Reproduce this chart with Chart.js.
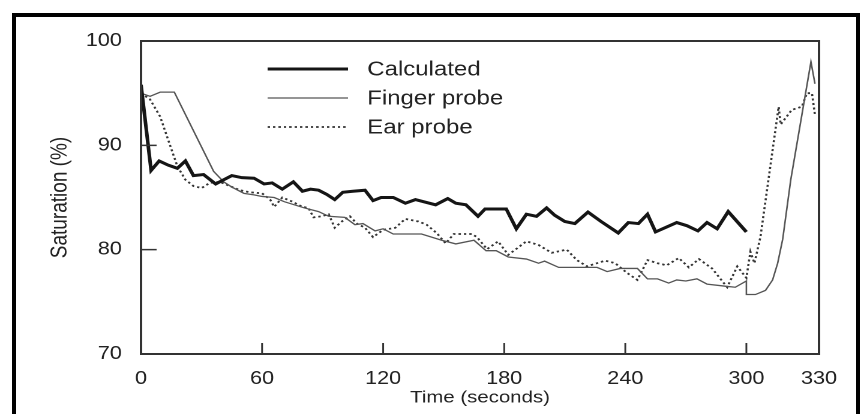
<!DOCTYPE html>
<html>
<head>
<meta charset="utf-8">
<script src="https://cdn.jsdelivr.net/npm/chart.js@4.4.1/dist/chart.umd.min.js"></script>
<style>
  html, body { margin: 0; padding: 0; background: #fff; overflow: hidden; }
  body { width: 868px; height: 414px; position: relative; }
  #frame { position: absolute; left: 12px; top: 13px; width: 840px; height: 420px; border: 4px solid #000; }
  #wrap { position: absolute; left: 0; top: 0; width: 723px; height: 414px; transform: scaleX(1.2); transform-origin: 0 0; }
</style>
</head>
<body>
<div id="frame"></div>
<div id="wrap"><canvas id="myChart" width="723" height="414"></canvas></div>
<script>
// time axis ticks (the figure puts "330" at the right edge)
const tickValues = [0, 60, 120, 180, 240, 300, 336];
const tickLabels = ['0', '60', '120', '180', '240', '300', '330'];

const calcTime = [0, 5, 9, 13.5, 18, 22, 26, 31, 37, 41, 45, 50, 56, 61, 65, 70, 75.5, 80, 84, 88,
  92, 96, 100, 105, 111, 115, 119, 125, 131, 136, 140, 146, 152, 156, 161, 167, 170.5, 181, 186, 191,
  196, 201, 205, 210, 215, 221.5, 228, 236.5, 241.5, 246.5, 251, 255, 265.5, 270.5, 276, 280.5, 285.5, 291, 300];
const calcSat = [95.8, 87.6, 88.5, 88.1, 87.8, 88.5, 87.1, 87.2, 86.3, 86.7, 87.1, 86.9, 86.85, 86.3, 86.4, 85.8, 86.5, 85.6, 85.8, 85.7,
  85.3, 84.8, 85.5, 85.6, 85.7, 84.7, 85.0, 85.0, 84.45, 84.8, 84.6, 84.3, 84.9, 84.45, 84.3, 83.2, 83.9, 83.9, 82.0, 83.4,
  83.2, 84.0, 83.3, 82.7, 82.5, 83.6, 82.7, 81.6, 82.6, 82.5, 83.4, 81.7, 82.6, 82.3, 81.8, 82.6, 82.0, 83.65, 81.7];

const fingerTime = [0, 4.5, 9.5, 16.5, 36, 41, 45, 51, 56, 60, 66, 71, 76, 81, 88, 93, 101, 106, 110, 116,
  120, 125, 139, 149, 156, 165, 171, 176, 182, 191, 197, 200, 207, 226, 231, 237.5, 246, 251, 256, 261.5,
  265.5, 270, 275.5, 280.5, 289.5, 294.5, 300, 300, 304.5, 309.5, 313, 315.5, 318, 322, 332, 334];
const fingerSat = [95.0, 94.7, 95.1, 95.1, 87.5, 86.5, 86.0, 85.4, 85.25, 85.1, 85.0, 84.6, 84.3, 84.0, 83.65, 83.2, 83.1, 82.4, 82.5, 81.8,
  82.0, 81.5, 81.5, 80.9, 80.55, 80.9, 79.9, 79.9, 79.3, 79.1, 78.7, 78.9, 78.3, 78.3, 77.9, 78.2, 78.2, 77.2, 77.2, 76.8,
  77.1, 77.0, 77.2, 76.7, 76.5, 76.4, 77.0, 75.7, 75.7, 76.1, 77.1, 78.7, 81.0, 86.7, 98.0, 95.9];

const earTime = [0, 4.5, 9.5, 13.5, 18, 22, 26, 30, 34, 39, 44, 49, 54, 60, 64, 66, 70, 75, 80, 83,
  85.5, 89.5, 93, 96, 99.5, 103.5, 107, 111, 115, 120, 126, 131, 137.5, 141.5, 146.5, 151, 155, 160, 164, 166.5,
  171.5, 177, 182, 191, 197, 203.5, 211, 216, 221, 230, 235, 241, 246, 251, 256, 260.5, 266.5, 271.5, 276.5, 283,
  290.5, 295.5, 300, 302, 304, 307, 316, 317, 322.5, 327.5, 330, 332.5, 334];
const earSat = [95, 94.4, 92.75, 90.5, 88.0, 86.7, 86.1, 85.9, 86.4, 86.5, 86.1, 85.7, 85.5, 85.4, 84.8, 84.1, 85.0, 84.6, 84.1, 84.0,
  83.1, 83.2, 83.4, 82.1, 82.7, 83.2, 82.5, 82.1, 81.2, 81.9, 82.1, 82.95, 82.7, 82.4, 81.6, 80.6, 81.5, 81.5, 81.5, 81.2,
  80.05, 80.8, 79.5, 80.8, 80.45, 79.7, 80.0, 79.0, 78.4, 78.95, 78.7, 77.75, 77.1, 79.0, 78.7, 78.5, 79.2, 78.3, 79.1, 78.2,
  76.4, 78.4, 77.3, 79.8, 78.7, 81.25, 93.7, 92.0, 93.4, 93.7, 95.0, 95.0, 92.9];

const FONT = "'Liberation Sans', Arial, sans-serif";
const TEXT = '#222';

function pairs(xs, ys) {
  return xs.map((x, i) => ({ x: x, y: ys[i] }));
}

// box round the plot, inward tick marks and the legend inside the plot
const framePlugin = {
  id: 'framePlugin',
  afterDraw(chart) {
    const ctx = chart.ctx;
    const a = chart.chartArea;
    const xs = chart.scales.x, ys = chart.scales.y;
    ctx.save();
    ctx.strokeStyle = '#333';
    ctx.lineWidth = 1.5;
    ctx.beginPath();
    [80, 90].forEach(v => {
      const y = ys.getPixelForValue(v);
      ctx.moveTo(a.left, y);
      ctx.lineTo(a.left + 13, y);
    });
    [60, 120, 180, 240, 300].forEach(v => {
      const x = xs.getPixelForValue(v);
      ctx.moveTo(x, a.bottom);
      ctx.lineTo(x, a.bottom - 11);
    });
    ctx.stroke();

    ctx.lineWidth = 2;
    ctx.strokeStyle = '#333';
    ctx.strokeRect(a.left, a.top, a.right - a.left, a.bottom - a.top);

    // legend
    const rows = [69, 98, 127];
    ctx.font = '20px ' + FONT;
    ctx.textBaseline = 'middle';
    ctx.fillStyle = TEXT;
    chart.data.datasets.forEach((ds, i) => {
      ctx.beginPath();
      ctx.strokeStyle = ds.borderColor;
      ctx.lineWidth = ds.borderWidth;
      ctx.setLineDash(ds.borderDash || []);
      ctx.moveTo(223, rows[i]);
      ctx.lineTo(290, rows[i]);
      ctx.stroke();
      ctx.setLineDash([]);
      ctx.fillText(ds.label, 306, rows[i] + 1);
    });
    ctx.restore();
  }
};

new Chart(document.getElementById('myChart'), {
  type: 'line',
  data: {
    datasets: [{
      label: 'Calculated',
      data: pairs(calcTime, calcSat),
      borderColor: '#151515',
      borderWidth: 3,
      pointRadius: 0,
      tension: 0
    }, {
      label: 'Finger probe',
      data: pairs(fingerTime, fingerSat),
      borderColor: '#555',
      borderWidth: 1.3,
      pointRadius: 0,
      tension: 0
    }, {
      label: 'Ear probe',
      data: pairs(earTime, earSat),
      borderColor: '#333',
      borderWidth: 1.8,
      borderDash: [2, 2.5],
      pointRadius: 0,
      tension: 0
    }]
  },
  options: {
    responsive: false,
    animation: false,
    devicePixelRatio: 2,
    layout: { padding: { left: 0, right: 40.5, top: 41, bottom: 0 } },
    plugins: {
      legend: { display: false },
      tooltip: { enabled: false }
    },
    scales: {
      x: {
        type: 'linear',
        min: 0,
        max: 336,
        afterBuildTicks: axis => { axis.ticks = tickValues.map(v => ({ value: v })); },
        afterFit: axis => { axis.height = 60; },
        grid: { display: false },
        border: { display: false },
        ticks: {
          autoSkip: false,
          maxRotation: 0,
          padding: 6,
          color: TEXT,
          font: { family: FONT, size: 18 },
          callback: (value, index) => tickLabels[index]
        },
        title: {
          display: true,
          text: 'Time (seconds)',
          color: TEXT,
          font: { family: FONT, size: 17 },
          padding: { top: 0, bottom: 6 }
        }
      },
      y: {
        min: 70,
        max: 100,
        afterFit: axis => { axis.width = 117.5; },
        grid: { display: false },
        border: { display: false },
        ticks: {
          stepSize: 10,
          padding: 8,
          color: TEXT,
          font: { family: FONT, size: 18 }
        },
        title: {
          display: true,
          text: 'Saturation (%)',
          color: TEXT,
          font: { family: FONT, size: 19 },
          padding: { top: 39, bottom: 0 }
        }
      }
    }
  },
  plugins: [framePlugin]
});
</script>
</body>
</html>
